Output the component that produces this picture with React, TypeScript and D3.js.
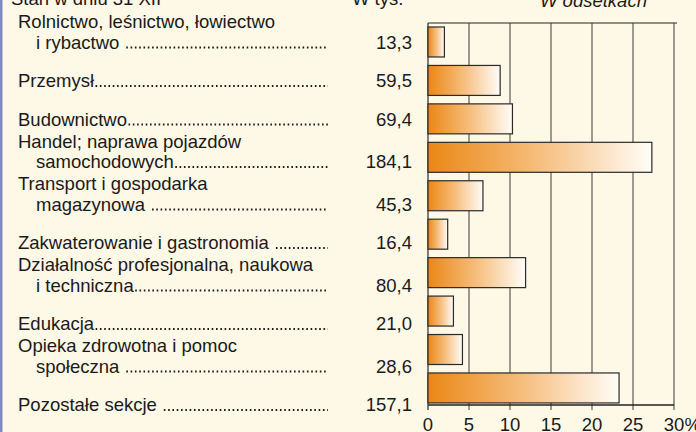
import React, { useLayoutEffect, useRef, useState } from "react";
import * as d3 from "d3";

const labels: string[][] = [
  ["Rolnictwo, leśnictwo, łowiectwo", "i rybactwo "],
  ["Przemysł"],
  ["Budownictwo"],
  ["Handel; naprawa pojazdów", "samochodowych"],
  ["Transport i gospodarka", "magazynowa "],
  ["Zakwaterowanie i gastronomia "],
  ["Działalność profesjonalna, naukowa", "i techniczna"],
  ["Edukacja"],
  ["Opieka zdrowotna i pomoc", "społeczna "],
  ["Pozostałe sekcje "],
];
const valuesTys: string[] = ["13,3", "59,5", "69,4", "184,1", "45,3", "16,4", "80,4", "21,0", "28,6", "157,1"];
const percents: number[] = [2.0, 8.8, 10.3, 27.3, 6.7, 2.4, 11.9, 3.1, 4.2, 23.3];
const xTicks: number[] = [0, 5, 10, 15, 20, 25, 30];

const W = 696, H = 432;
const FONT = "'Liberation Sans', Arial, sans-serif";
const FS = 18.5;

export default function App() {
  const x = d3.scaleLinear().domain([0, 30]).range([428, 674]);
  const y = d3
    .scaleBand<number>()
    .domain(d3.range(labels.length))
    .range([23, 405])
    .paddingInner(0.22)
    .paddingOuter(0.0787)
    .align(0.66);

  const lastBase: number[] = [];
  let b = 48.5;
  labels.forEach((l, i) => {
    if (i > 0) b += 38.5 + (l.length === 2 ? 4 : 0);
    lastBase.push(b);
  });
  const lineH = 20.5;

  const refs = useRef<(SVGTextElement | null)[]>([]);
  const [ends, setEnds] = useState<number[]>([]);
  useLayoutEffect(() => {
    const e = labels.map((l, i) => {
      const el = refs.current[i];
      const x0 = l.length > 1 ? 36 : 18;
      const last = l[l.length - 1];
      const gap = last.endsWith(" ") ? 5.5 : 0;
      return (el ? x0 + el.getComputedTextLength() : x0 + 100) + gap;
    });
    setEnds(e);
  }, []);

  return (
    <svg width={W} height={H} style={{ position: "absolute", left: 0, top: 0 }} fontFamily={FONT}>
      <defs>
        <linearGradient id="barGrad" x1="0" x2="1" y1="0" y2="0">
          <stop offset="0" stopColor="#EA8715" />
          <stop offset="0.5" stopColor="#F6BE7E" />
          <stop offset="1" stopColor="#FFFDF8" />
        </linearGradient>
      </defs>
      <rect x={0} y={0} width={W} height={H} fill="#FEF8E6" />
      <rect x={0} y={0} width={2.5} height={H} fill="#7E87C7" />

      {/* header */}
      <text x={11} y={5} fontSize={FS} fill="#1a1a1a">Stan w dniu 31 XII</text>
      <text x={352} y={5} fontSize={FS} fill="#1a1a1a">W tys.</text>
      <text x={540} y={7} fontSize={FS} fontStyle="italic" fill="#1a1a1a">W odsetkach</text>

      {/* grid */}
      <line x1={428} x2={677} y1={23} y2={23} stroke="#222" strokeWidth={1.2} />
      {xTicks.map((t) => (
        <line key={"g" + t} x1={x(t)} x2={x(t)} y1={23} y2={410} stroke="#3a3a3a" strokeWidth={t === 0 ? 1.3 : 1} />
      ))}
      <line x1={428} x2={674} y1={405} y2={405} stroke="#222" strokeWidth={1.3} />

      {/* bars */}
      {percents.map((p, i) => (
        <rect
          key={"b" + i}
          x={x(0)}
          y={y(i)!}
          width={x(p) - x(0)}
          height={y.bandwidth()}
          fill="url(#barGrad)"
          stroke="#2a2a2a"
          strokeWidth={1.2}
        />
      ))}

      {/* tick labels */}
      {xTicks.map((t) => (
        <text key={"t" + t} x={x(t)} y={431} fontSize={FS} textAnchor="middle" fill="#1a1a1a">
          {t}
        </text>
      ))}
      <text x={x(30) + 10.5} y={431} fontSize={FS} fill="#1a1a1a">%</text>

      {/* labels */}
      {labels.map((l, i) =>
        l.map((line, j) => {
          const isLast = j === l.length - 1;
          const base = lastBase[i] - (l.length - 1 - j) * lineH;
          return (
            <text
              key={"l" + i + "_" + j}
              ref={isLast ? (el) => { refs.current[i] = el; } : undefined}
              x={j === 0 ? 18 : 36}
              y={base}
              fontSize={FS}
              fill="#1a1a1a"
            >
              {line.trim()}
            </text>
          );
        })
      )}
      {/* leader dots */}
      {ends.map((e, i) => (
        <line
          key={"d" + i}
          x1={e + 1.5}
          x2={328}
          y1={lastBase[i] - 1}
          y2={lastBase[i] - 1}
          stroke="#1a1a1a"
          strokeWidth={1.8}
          strokeDasharray="1.6 2.7"
        />
      ))}

      {/* values */}
      {valuesTys.map((v, i) => (
        <text key={"v" + i} x={412} y={lastBase[i]} fontSize={FS} textAnchor="end" fill="#1a1a1a">
          {v}
        </text>
      ))}
    </svg>
  );
}
